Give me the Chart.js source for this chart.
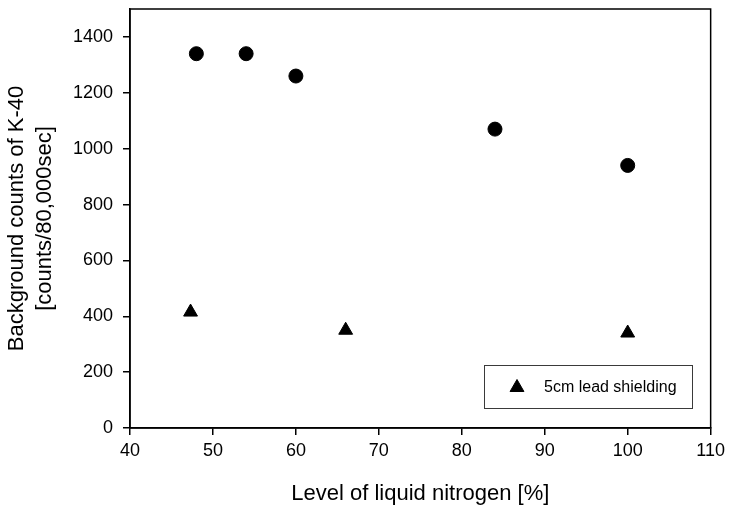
<!DOCTYPE html>
<html>
<head>
<meta charset="utf-8">
<script src="https://cdn.jsdelivr.net/npm/chart.js@4/dist/chart.umd.min.js"></script>
<style>
  html, body { margin: 0; padding: 0; background: #fff; }
  #wrap { width: 730px; height: 507px; }
</style>
</head>
<body>
<div id="wrap"><canvas id="chart" width="730" height="507"></canvas></div>
<script>
// Background K-40 counts vs. liquid nitrogen level
const nitrogenLevels   = [48, 54, 60, 84, 100];
const backgroundCounts = [1340, 1340, 1260, 1070, 940];

const shieldedLevels = [47.3, 66, 100];
const shieldedCounts = [415, 350, 340];
const shieldedLabel  = '5cm lead shielding';

const xTickValues = [40, 50, 60, 70, 80, 90, 100, 110];
const yTickValues = [0, 200, 400, 600, 800, 1000, 1200, 1400];

const xTitle = 'Level of liquid nitrogen [%]';
const yTitle = ['Background counts of K-40', '[counts/80,000sec]'];

const FONT = "'Liberation Sans', Arial, Helvetica, sans-serif";

const toPoints = (xs, ys) => xs.map((x, i) => ({ x: x, y: ys[i] }));

// keep the plot area exactly where the layout padding puts it
const noEdgePadding = s => {
  s.paddingTop = 0;
  s.paddingBottom = 0;
};

// closed frame around the plotting area
const framePlugin = {
  id: 'frame',
  afterDatasetsDraw(chart) {
    const { ctx, chartArea: a } = chart;
    ctx.save();
    ctx.strokeStyle = '#000';
    ctx.lineWidth = 1.5;
    ctx.strokeRect(a.left, a.top, a.right - a.left, a.bottom - a.top);
    ctx.restore();
  }
};

// boxed legend inside the plotting area, for the labelled series only
const boxLegendPlugin = {
  id: 'boxLegend',
  afterDraw(chart, args, opts) {
    const ds = chart.data.datasets.find(d => d.label);
    if (!ds) return;
    const { ctx } = chart;
    ctx.save();
    ctx.fillStyle = '#fff';
    ctx.fillRect(opts.x, opts.y, opts.w, opts.h);
    ctx.strokeStyle = '#3a3a3a';
    ctx.lineWidth = 1;
    ctx.strokeRect(opts.x + 0.5, opts.y + 0.5, opts.w, opts.h);
    ctx.fillStyle = ds.backgroundColor;
    ctx.strokeStyle = ds.borderColor;
    ctx.lineWidth = ds.borderWidth;
    Chart.helpers.drawPoint(ctx, {
      pointStyle: ds.pointStyle,
      radius: ds.pointRadius,
      borderWidth: ds.borderWidth,
      rotation: 0
    }, opts.x + 33, opts.y + opts.h / 2 + 1);
    ctx.fillStyle = '#000';
    ctx.font = '16px ' + FONT;
    ctx.textBaseline = 'middle';
    ctx.textAlign = 'left';
    ctx.fillText(ds.label, opts.x + 60, opts.y + opts.h / 2 + 1);
    ctx.restore();
  }
};

new Chart(document.getElementById('chart'), {
  type: 'scatter',
  data: {
    datasets: [
      {
        data: toPoints(nitrogenLevels, backgroundCounts),
        pointStyle: 'circle',
        pointRadius: 7,
        pointHoverRadius: 7,
        backgroundColor: '#000',
        borderColor: '#000',
        borderWidth: 1
      },
      {
        label: shieldedLabel,
        data: toPoints(shieldedLevels, shieldedCounts),
        pointStyle: 'triangle',
        pointRadius: 8,
        pointHoverRadius: 8,
        backgroundColor: '#000',
        borderColor: '#000',
        borderWidth: 1
      }
    ]
  },
  options: {
    responsive: false,
    animation: false,
    layout: { padding: { top: 9, right: 19, left: 0, bottom: 0 } },
    plugins: {
      legend: { display: false },
      tooltip: { enabled: false },
      boxLegend: { x: 484, y: 365, w: 208, h: 43 }
    },
    scales: {
      x: {
        type: 'linear',
        min: 40,
        max: 110,
        afterBuildTicks: s => { s.ticks = xTickValues.map(v => ({ value: v })); },
        afterFit: s => { s.height = 79; },
        ticks: {
          color: '#000', font: { family: FONT, size: 18 }, padding: 5, maxRotation: 0,
          callback: v => String(v)
        },
        grid: { drawOnChartArea: false, drawTicks: true, tickLength: 7, color: '#000', lineWidth: 1.5 },
        border: { display: true, color: '#000', width: 1.5 },
        title: {
          display: true, text: xTitle, color: '#000',
          font: { family: FONT, size: 22, lineHeight: 1.2 },
          padding: { top: 0, bottom: 0 }
        }
      },
      y: {
        type: 'linear',
        min: 0,
        max: 1500,
        afterBuildTicks: s => { s.ticks = yTickValues.map(v => ({ value: v })); },
        afterFit: s => { s.width = 130; noEdgePadding(s); },
        ticks: {
          color: '#000', font: { family: FONT, size: 18 }, padding: 10,
          callback: v => String(v)
        },
        grid: { drawOnChartArea: false, drawTicks: true, tickLength: 7, color: '#000', lineWidth: 1.5 },
        border: { display: true, color: '#000', width: 1.5 },
        title: {
          display: true, text: yTitle, color: '#000',
          font: { family: FONT, size: 22, lineHeight: 1.27 },
          padding: { top: 3, bottom: 0 }
        }
      }
    }
  },
  plugins: [framePlugin, boxLegendPlugin]
});
</script>
</body>
</html>
